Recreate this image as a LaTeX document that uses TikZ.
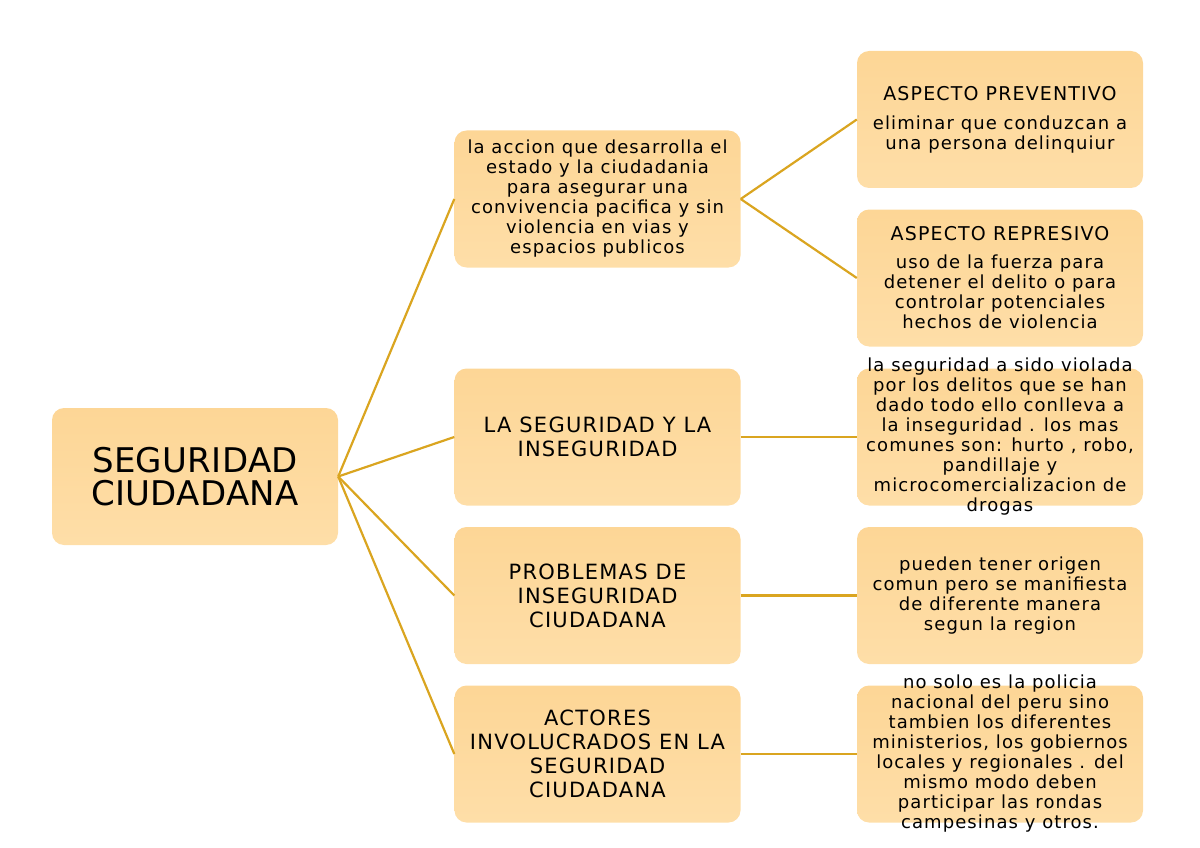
\documentclass[tikz,border=0pt]{standalone}
\usepackage{fontspec}
\setmainfont{DejaVu Sans}
\newfontfamily\spacedfont[LetterSpace=6]{DejaVu Sans}
\newfontfamily\bigfont[LetterSpace=1]{DejaVu Sans}
\definecolor{boxtop}{HTML}{FDD696}
\definecolor{boxbot}{HTML}{FEDEA8}
\definecolor{linkc}{HTML}{DAA520}
\begin{document}
\begin{tikzpicture}[x=1pt,y=-1pt,
  boxshape/.style={top color=boxtop, bottom color=boxbot, rounded corners=12pt, draw=none, minimum width=286pt, minimum height=137pt, inner sep=0pt},
  txt/.style={align=center, inner sep=0pt, text=black},
  small/.style={txt, font=\spacedfont\fontsize{18}{20}\selectfont},
  mid/.style={txt, font=\spacedfont\fontsize{21}{24}\selectfont},
  big/.style={txt, font=\bigfont\fontsize{34}{33}\selectfont},
  link/.style={draw=linkc, line width=2.2pt}]
\useasboundingbox (0,0) rectangle (1200,848);
% boxes
\node[boxshape] (root) at (195,476.5) {};
\node[boxshape] (a1) at (597.5,199) {};
\node[boxshape] (a2) at (597.5,437) {};
\node[boxshape] (a3) at (597.5,595.5) {};
\node[boxshape] (a4) at (597.5,754) {};
\node[boxshape] (b1) at (1000,119.5) {};
\node[boxshape] (b2) at (1000,278) {};
\node[boxshape] (b3) at (1000,437) {};
\node[boxshape] (b4) at (1000,595.5) {};
\node[boxshape] (b5) at (1000,754) {};
% connectors
\foreach \t in {a1,a2,a3,a4} \draw[link] (root.east) -- (\t.west);
\draw[link] (a1.east) -- (b1.west);
\draw[link] (a1.east) -- (b2.west);
\draw[link] (a2.east) -- (b3.west);
\draw[link] (a3.east) -- (b4.west);
\draw[link] (a4.east) -- (b5.west);
% texts
\node[big] (troot) at (root) {SEGURIDAD\\CIUDADANA};
\node[small] (ta1) at (a1) {la accion que desarrolla el\\estado y la ciudadania\\para asegurar una\\convivencia pacifica y sin\\violencia en vias y\\espacios publicos};
\node[mid] (ta2) at (a2) {LA SEGURIDAD Y LA\\INSEGURIDAD};
\node[mid] (ta3) at (a3) {PROBLEMAS DE\\INSEGURIDAD\\CIUDADANA};
\node[mid] (ta4) at (a4) {ACTORES\\INVOLUCRADOS EN LA\\SEGURIDAD\\CIUDADANA};
\node[small] (tb1) at (b1) {{\fontsize{19}{20}\selectfont ASPECTO PREVENTIVO}\\[9pt]eliminar que conduzcan a\\una persona delinquiur};
\node[small] (tb2) at (b2) {{\fontsize{19}{20}\selectfont ASPECTO REPRESIVO}\\[8pt]uso de la fuerza para\\detener el delito o para\\controlar potenciales\\hechos de violencia};
\node[small] (tb3) at (b3) {la seguridad a sido violada\\por los delitos que se han\\dado todo ello conlleva a\\la inseguridad . los mas\\comunes son: hurto , robo,\\pandillaje y\\microcomercializacion de\\drogas};
\node[small] (tb4) at (b4) {pueden tener origen\\comun pero se manifiesta\\de diferente manera\\segun la region};
\node[small] (tb5) at (b5) {no solo es la policia\\nacional del peru sino\\tambien los diferentes\\ministerios, los gobiernos\\locales y regionales . del\\mismo modo deben\\participar las rondas\\campesinas y otros.};
\end{tikzpicture}
\end{document}
